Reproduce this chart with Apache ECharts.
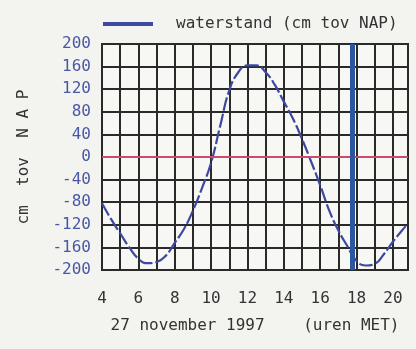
<!DOCTYPE html>
<html><head><meta charset="utf-8">
<script src="https://cdn.jsdelivr.net/npm/echarts@6/dist/echarts.min.js"></script>
<style>html,body{margin:0;padding:0;background:#f3f3ef;}#c{width:416px;height:349px;}</style>
</head><body><div id="c"></div>
<script>
const hours = [4, 4.5, 5, 5.5, 6, 6.5, 7, 7.5, 8, 8.5, 9, 9.5, 10, 10.5, 11, 11.5, 12, 12.5, 13, 13.5, 14, 14.5, 15, 15.5, 16, 16.5, 17, 17.5, 18, 18.5, 19, 19.5, 20, 20.5, 20.83];
const waterstand = [-82, -110, -135, -160, -180, -188, -186, -175, -152, -128, -95, -55, -10, 55, 118, 150, 162, 162, 150, 128, 98, 68, 32, -8, -50, -95, -130, -158, -184, -192, -189, -172, -150, -130, -118];
const yTicks = [-200, -160, -120, -80, -40, 0, 40, 80, 120, 160, 200];
const xTickLabels = [4, 6, 8, 10, 12, 14, 16, 18, 20];
const nowHour = 17.75;
const zeroLevel = 0;
const seriesName = 'waterstand (cm tov NAP)';
const xTitle = '27 november 1997    (uren MET)';
const yTitle = 'cm  tov  N A P';

const font = 'DejaVu Sans Mono';
const chart = echarts.init(document.getElementById('c'));
chart.setOption({
  backgroundColor: '#f3f3ef',
  animation: false,
  grid: {left: 102, right: 8, top: 44, bottom: 79, show: true, borderColor: '#2a2a2a', borderWidth: 2, backgroundColor: '#f7f7f4'},
  legend: {
    data: [seriesName], left: 103, top: 16, padding: 0, itemWidth: 50, itemHeight: 4, icon: 'rect',
    textStyle: {fontFamily: font, fontSize: 16, color: '#333', padding: [0, 0, 0, 18]}
  },
  xAxis: {
    type: 'value', min: 4, max: 20.83, interval: 1,
    axisLine: {show: false}, axisTick: {show: false},
    splitLine: {show: true, lineStyle: {color: '#2a2a2a', width: 2}},
    axisLabel: {
      fontFamily: font, fontSize: 16, color: '#333', margin: 21,
      formatter: v => xTickLabels.indexOf(v) >= 0 ? String(v) : ''
    },
    name: xTitle, nameLocation: 'middle', nameGap: 48,
    nameTextStyle: {fontFamily: font, fontSize: 16, color: '#333'}
  },
  yAxis: {
    type: 'value', min: yTicks[0], max: yTicks[yTicks.length - 1], interval: 40,
    axisLine: {show: false}, axisTick: {show: false},
    splitLine: {show: true, lineStyle: {color: '#2a2a2a', width: 2}},
    axisLabel: {fontFamily: font, fontSize: 16, color: '#4a57a6', margin: 11},
    name: yTitle, nameLocation: 'middle', nameGap: 70, nameRotate: 90,
    nameTextStyle: {fontFamily: font, fontSize: 16, color: '#333'}
  },
  series: [{
    name: seriesName, type: 'line', smooth: true, showSymbol: false,
    data: hours.map((h, i) => [h, waterstand[i]]),
    lineStyle: {color: '#3d48a0', width: 2.2, type: [14, 3]},
    itemStyle: {color: '#3d48a0'},
    markLine: {
      silent: true, symbol: 'none', label: {show: false},
      data: [
        {yAxis: zeroLevel, lineStyle: {color: '#cc4a6e', width: 2, type: 'solid'}},
        {xAxis: nowHour, lineStyle: {color: '#2d56a0', width: 5, type: 'solid'}}
      ]
    }
  }]
});
</script></body></html>
